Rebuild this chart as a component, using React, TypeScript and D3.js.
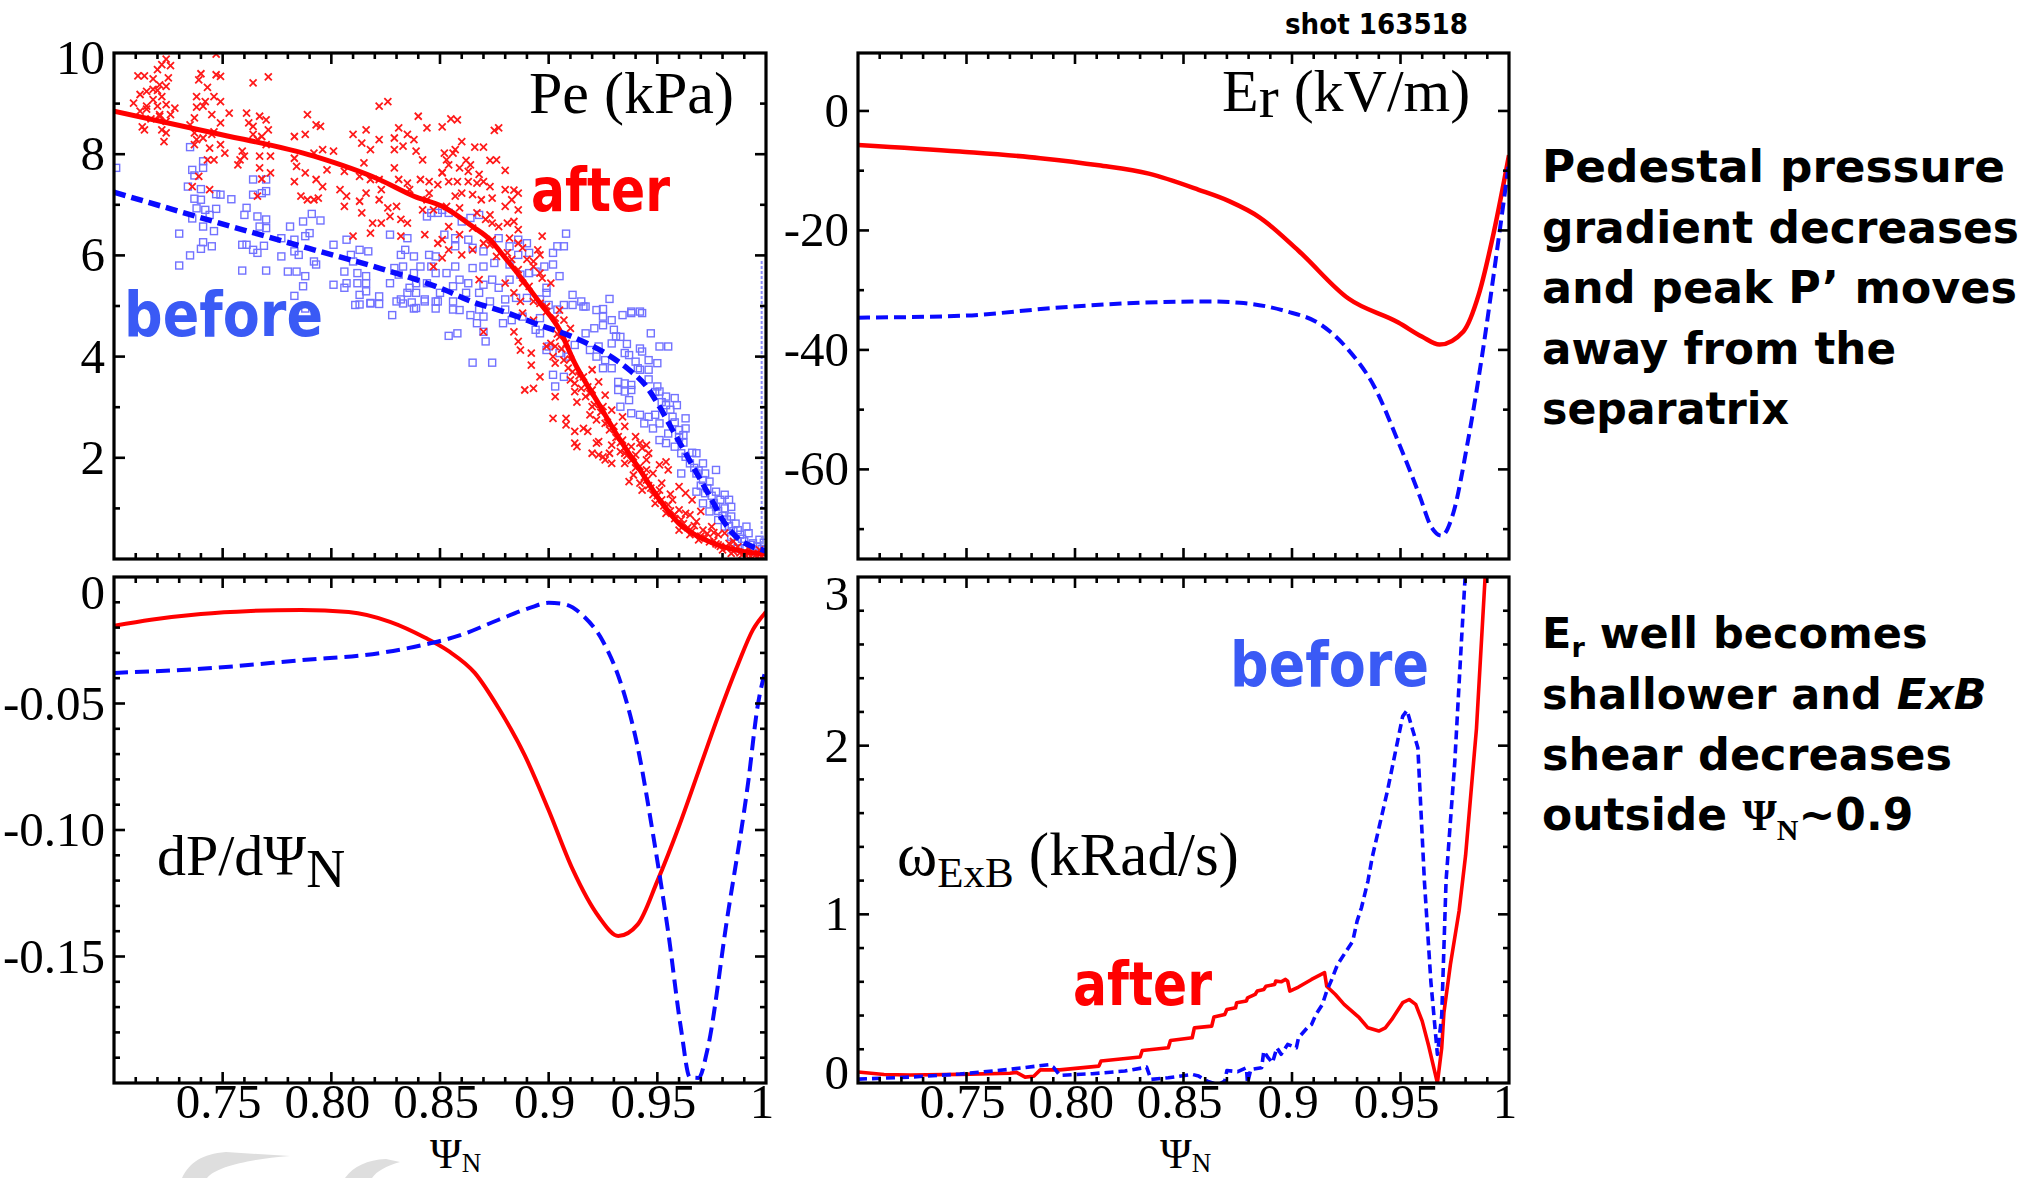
import React from 'react';
import * as d3 from 'd3';

type P = [number, number];

// ---------------- data ----------------
const xTickVals = [0.75, 0.8, 0.85, 0.9, 0.95, 1.0];
const xTickText = ['0.75', '0.80', '0.85', '0.9', '0.95', '1'];

const peTickVals = [10, 8, 6, 4, 2];
const peTickText = ['10', '8', '6', '4', '2'];
const erTickVals = [0, -20, -40, -60];
const erTickText = ['0', '-20', '-40', '-60'];
const dpTickVals = [0, -0.05, -0.1, -0.15];
const dpTickText = ['0', '-0.05', '-0.10', '-0.15'];
const wTickVals = [0, 1, 2, 3];
const wTickText = ['0', '1', '2', '3'];

const peAfterFit: P[] = [
  [0.700, 8.85], [0.746, 8.42], [0.792, 7.96], [0.822, 7.50], [0.838, 7.17], [0.851, 6.97],
  [0.865, 6.57], [0.873, 6.31], [0.880, 5.95], [0.888, 5.52], [0.896, 5.06], [0.905, 4.53],
  [0.912, 3.87], [0.922, 3.14], [0.931, 2.48], [0.942, 1.76], [0.951, 1.17], [0.960, 0.70],
  [0.972, 0.38], [0.983, 0.21], [0.997, 0.11], [1.0, 0.10],
];
const peBeforeFit: P[] = [
  [0.700, 7.25], [0.746, 6.67], [0.792, 6.11], [0.822, 5.75], [0.852, 5.32], [0.865, 5.08],
  [0.880, 4.88], [0.896, 4.62], [0.911, 4.39], [0.926, 4.07], [0.937, 3.74], [0.945, 3.41],
  [0.951, 3.01], [0.957, 2.55], [0.963, 2.09], [0.969, 1.63], [0.975, 1.17], [0.981, 0.71],
  [0.987, 0.41], [0.994, 0.24], [1.0, 0.16],
];

const peAfterPts: P[] = [
  [0.724, 9.88], [0.722, 9.77], [0.720, 9.67], [0.726, 9.75], [0.711, 9.55], [0.714, 9.55], [0.718, 9.49], [0.725, 9.51],
  [0.721, 9.37], [0.724, 9.34], [0.715, 9.24], [0.712, 9.18], [0.718, 9.28], [0.720, 9.26], [0.722, 9.14], [0.718, 9.08],
  [0.715, 8.95], [0.709, 9.01], [0.712, 8.85], [0.715, 8.89], [0.720, 8.95], [0.724, 8.98], [0.728, 8.91], [0.726, 8.78],
  [0.721, 8.78], [0.724, 8.65], [0.721, 8.75], [0.717, 8.70], [0.713, 8.54], [0.714, 8.48], [0.722, 8.48], [0.724, 8.42],
  [0.723, 8.25], [0.740, 9.59], [0.739, 9.47], [0.747, 9.57], [0.749, 9.54], [0.743, 9.32], [0.738, 9.14], [0.738, 8.93],
  [0.742, 9.04], [0.746, 9.14], [0.745, 8.78], [0.741, 8.95], [0.749, 9.04], [0.753, 8.81], [0.749, 8.62], [0.746, 8.44],
  [0.745, 8.39], [0.735, 8.58], [0.737, 8.72], [0.737, 8.42], [0.738, 8.29], [0.737, 8.19], [0.741, 8.32], [0.744, 8.12],
  [0.749, 8.19], [0.751, 8.02], [0.746, 7.89], [0.743, 7.89], [0.747, 9.98], [0.759, 8.06], [0.760, 7.96], [0.758, 7.89],
  [0.757, 7.79], [0.761, 8.81], [0.762, 8.62], [0.764, 8.55], [0.767, 8.75], [0.764, 8.39], [0.766, 8.29], [0.768, 8.35],
  [0.770, 8.68], [0.771, 8.48], [0.770, 8.19], [0.764, 9.41], [0.771, 9.53], [0.767, 7.96], [0.772, 7.96], [0.767, 7.73],
  [0.768, 7.51], [0.766, 7.17], [0.772, 7.63], [0.739, 7.56], [0.736, 7.36], [0.744, 7.30], [0.783, 8.35], [0.788, 8.39],
  [0.789, 8.78], [0.793, 8.58], [0.795, 8.55], [0.792, 8.02], [0.796, 8.09], [0.783, 7.92], [0.784, 7.76], [0.783, 7.46],
  [0.786, 7.17], [0.789, 7.10], [0.792, 7.10], [0.794, 7.13], [0.788, 7.63], [0.793, 7.50], [0.796, 7.36], [0.798, 7.69],
  [0.801, 8.06], [0.806, 7.66], [0.804, 7.30], [0.807, 7.17], [0.806, 6.97], [0.810, 8.39], [0.814, 8.22], [0.816, 8.48],
  [0.822, 8.29], [0.818, 8.09], [0.822, 8.95], [0.826, 9.04], [0.829, 8.32], [0.831, 8.52], [0.835, 8.39], [0.833, 8.16],
  [0.829, 8.09], [0.838, 8.29], [0.840, 8.75], [0.844, 8.52], [0.839, 8.06], [0.842, 7.89], [0.815, 7.83], [0.813, 7.56],
  [0.818, 7.50], [0.822, 7.50], [0.823, 7.30], [0.816, 7.23], [0.813, 7.07], [0.822, 7.10], [0.826, 6.94], [0.814, 6.84],
  [0.819, 6.64], [0.823, 6.64], [0.827, 6.77], [0.829, 7.73], [0.831, 7.50], [0.835, 7.43], [0.836, 7.30], [0.841, 7.50],
  [0.845, 7.46], [0.849, 7.40], [0.851, 7.63], [0.845, 7.23], [0.844, 7.10], [0.842, 6.90], [0.847, 6.90], [0.830, 6.97],
  [0.832, 6.71], [0.835, 6.64], [0.810, 6.38], [0.818, 6.44], [0.832, 6.38], [0.843, 6.41], [0.849, 6.24], [0.851, 5.95],
  [0.847, 5.78], [0.855, 8.70], [0.858, 8.68], [0.851, 8.54], [0.860, 8.25], [0.866, 8.14], [0.870, 8.14], [0.875, 8.47],
  [0.877, 8.52], [0.852, 8.02], [0.856, 8.02], [0.857, 8.09], [0.853, 7.89], [0.854, 7.79], [0.862, 7.88], [0.864, 7.79],
  [0.873, 7.88], [0.876, 7.89], [0.880, 7.68], [0.859, 7.73], [0.863, 7.66], [0.868, 7.60], [0.851, 7.64], [0.854, 7.46],
  [0.858, 7.46], [0.863, 7.46], [0.867, 7.43], [0.870, 7.46], [0.873, 7.36], [0.860, 7.23], [0.857, 7.17], [0.865, 7.20],
  [0.869, 7.10], [0.874, 7.13], [0.880, 7.30], [0.884, 7.29], [0.886, 7.23], [0.883, 7.10], [0.880, 6.97], [0.886, 6.90],
  [0.853, 6.97], [0.859, 6.94], [0.867, 6.84], [0.873, 6.80], [0.854, 6.57], [0.859, 6.41], [0.865, 6.54], [0.871, 6.71],
  [0.874, 6.64], [0.877, 6.57], [0.881, 6.64], [0.884, 6.67], [0.886, 6.51], [0.882, 6.34], [0.886, 6.24], [0.874, 6.31],
  [0.870, 6.24], [0.851, 6.31], [0.854, 6.11], [0.860, 6.01], [0.865, 6.11], [0.873, 6.21], [0.876, 5.98], [0.881, 6.05],
  [0.883, 5.92], [0.888, 6.15], [0.890, 5.92], [0.895, 6.11], [0.897, 6.38], [0.896, 6.01], [0.893, 5.88], [0.886, 5.72],
  [0.893, 5.78], [0.896, 5.65], [0.897, 5.55], [0.901, 5.45], [0.888, 5.45], [0.891, 5.39], [0.868, 5.52], [0.880, 5.45],
  [0.884, 5.26], [0.887, 5.09], [0.893, 5.09], [0.899, 4.99], [0.870, 4.49], [0.884, 4.49], [0.886, 4.30], [0.887, 4.13],
  [0.892, 4.07], [0.892, 3.83], [0.896, 3.60], [0.889, 3.34], [0.893, 3.37], [0.903, 3.21], [0.902, 2.78], [0.908, 2.78],
  [0.908, 2.65], [0.912, 2.29], [0.912, 2.52], [0.916, 2.58], [0.918, 2.52], [0.899, 4.20], [0.901, 4.26], [0.903, 4.20],
  [0.905, 4.39], [0.908, 4.26], [0.902, 4.00], [0.903, 3.87], [0.907, 3.93], [0.909, 3.77], [0.911, 3.70], [0.910, 3.54],
  [0.912, 3.47], [0.916, 3.60], [0.915, 3.37], [0.912, 3.31], [0.917, 3.21], [0.920, 3.74], [0.923, 3.50], [0.920, 3.34],
  [0.926, 3.24], [0.920, 3.01], [0.925, 3.01], [0.919, 2.85], [0.922, 2.75], [0.926, 2.68], [0.929, 2.94], [0.930, 2.62],
  [0.932, 2.42], [0.929, 2.25], [0.923, 2.32], [0.920, 2.09], [0.923, 2.06], [0.925, 2.02], [0.929, 1.89], [0.934, 2.81],
  [0.935, 2.62], [0.934, 2.35], [0.938, 2.22], [0.940, 2.42], [0.942, 2.29], [0.935, 2.09], [0.940, 2.06], [0.943, 2.19],
  [0.945, 2.25], [0.946, 2.09], [0.935, 1.89], [0.942, 1.83], [0.945, 1.76], [0.939, 1.66], [0.937, 1.53], [0.942, 1.50],
  [0.945, 1.56], [0.948, 1.69], [0.951, 1.86], [0.955, 1.76], [0.954, 1.92], [0.943, 1.36], [0.948, 1.27], [0.951, 1.36],
  [0.952, 1.17], [0.949, 1.10], [0.955, 1.07], [0.957, 1.17], [0.960, 0.97], [0.954, 0.90], [0.958, 0.80], [0.963, 0.90],
  [0.965, 0.87], [0.970, 0.94], [0.962, 0.70], [0.968, 0.74], [0.960, 0.57], [0.965, 0.48], [0.971, 0.57], [0.975, 0.64],
  [0.978, 0.48], [0.981, 0.51], [0.969, 0.38], [0.974, 0.34], [0.978, 0.28], [0.983, 0.31], [0.987, 0.24], [0.992, 0.21],
  [0.997, 0.18], [0.980, 0.18], [0.984, 0.11], [0.989, 0.08], [0.994, 0.11], [0.997, 0.08], [0.960, 1.43], [0.963, 1.30],
  [0.966, 1.17], [0.945, 1.96], [0.933, 2.12], [0.928, 2.09], [0.926, 1.96], [0.922, 2.29], [0.919, 3.27], [0.913, 2.22],
  [0.896, 5.05], [0.899, 4.89], [0.903, 4.76], [0.905, 4.92], [0.907, 4.72], [0.910, 4.56], [0.893, 4.72], [0.888, 4.86],
  [0.921, 3.05], [0.924, 2.90], [0.927, 2.70], [0.928, 2.55], [0.931, 2.40], [0.933, 2.30], [0.936, 2.05], [0.938, 1.95],
  [0.940, 1.80], [0.944, 1.62], [0.946, 1.45], [0.947, 1.40], [0.950, 1.25], [0.953, 1.05], [0.956, 0.95], [0.958, 0.88],
  [0.961, 0.78], [0.964, 0.62], [0.966, 0.55], [0.967, 0.66], [0.970, 0.45], [0.972, 0.42], [0.973, 0.50], [0.976, 0.36],
  [0.977, 0.30], [0.979, 0.25], [0.982, 0.22], [0.985, 0.15], [0.986, 0.20], [0.988, 0.12], [0.990, 0.14], [0.991, 0.06],
  [0.993, 0.05], [0.995, 0.07], [0.996, 0.04], [0.998, 0.05], [0.999, 0.12], [0.985, 0.35], [0.976, 0.52], [0.956, 1.28],
  [0.952, 1.50], [0.939, 2.02], [0.935, 2.20], [0.918, 3.40], [0.914, 3.62], [0.910, 3.95], [0.906, 4.15], [0.913, 3.10],
  [0.904, 4.45],
];

const peBeforePts: P[] = [
  [0.701, 7.73], [0.735, 8.14], [0.741, 7.86], [0.741, 7.73], [0.736, 7.69], [0.737, 7.58], [0.734, 7.36], [0.740, 7.31],
  [0.737, 7.12], [0.740, 7.10], [0.747, 7.21], [0.749, 7.20], [0.754, 7.11], [0.738, 6.93], [0.742, 6.90], [0.747, 6.92],
  [0.744, 6.80], [0.736, 6.73], [0.741, 6.57], [0.746, 6.48], [0.730, 6.43], [0.741, 6.26], [0.740, 6.13], [0.745, 6.18],
  [0.735, 6.00], [0.730, 5.80], [0.759, 5.70], [0.770, 5.70], [0.764, 7.50], [0.770, 7.50], [0.764, 7.20], [0.768, 7.23],
  [0.770, 7.27], [0.761, 6.94], [0.760, 6.80], [0.766, 6.77], [0.770, 6.71], [0.767, 6.57], [0.770, 6.54], [0.759, 6.21],
  [0.761, 6.21], [0.764, 6.11], [0.766, 6.05], [0.769, 6.19], [0.777, 6.34], [0.777, 5.98], [0.781, 6.57], [0.787, 6.67],
  [0.791, 6.82], [0.795, 6.69], [0.790, 6.44], [0.788, 6.38], [0.783, 6.31], [0.783, 6.08], [0.785, 6.01], [0.780, 5.68],
  [0.784, 5.68], [0.788, 5.59], [0.787, 5.39], [0.783, 5.20], [0.792, 5.88], [0.793, 5.82], [0.801, 6.21], [0.807, 6.31],
  [0.809, 6.01], [0.813, 6.11], [0.817, 6.08], [0.810, 5.88], [0.806, 5.68], [0.812, 5.65], [0.816, 5.59], [0.807, 5.45],
  [0.812, 5.45], [0.801, 5.42], [0.806, 5.36], [0.816, 5.45], [0.813, 5.22], [0.816, 5.29], [0.818, 5.06], [0.813, 5.03],
  [0.822, 5.19], [0.827, 5.45], [0.827, 6.41], [0.835, 6.34], [0.834, 6.11], [0.838, 5.98], [0.832, 6.01], [0.829, 5.75],
  [0.833, 5.78], [0.831, 5.62], [0.838, 5.65], [0.841, 5.78], [0.845, 6.01], [0.848, 5.98], [0.846, 5.78], [0.848, 5.65],
  [0.844, 5.45], [0.839, 5.45], [0.836, 5.36], [0.839, 5.26], [0.832, 5.13], [0.835, 5.26], [0.843, 5.13], [0.848, 5.09],
  [0.850, 5.26], [0.839, 4.96], [0.846, 6.84], [0.844, 6.77], [0.849, 6.84], [0.811, 5.02], [0.818, 5.05], [0.822, 5.04],
  [0.828, 4.82], [0.830, 5.09], [0.833, 5.05], [0.837, 5.07], [0.838, 4.95], [0.843, 5.09], [0.848, 4.95], [0.849, 5.09],
  [0.788, 4.95], [0.851, 6.90], [0.854, 6.84], [0.860, 6.67], [0.864, 6.74], [0.868, 6.80], [0.852, 6.41], [0.857, 6.34],
  [0.857, 6.18], [0.863, 6.31], [0.865, 6.15], [0.870, 6.08], [0.877, 6.34], [0.882, 6.18], [0.886, 6.31], [0.890, 6.24],
  [0.891, 6.05], [0.886, 6.01], [0.882, 5.82], [0.875, 5.85], [0.870, 5.78], [0.865, 5.75], [0.857, 5.78], [0.853, 5.65],
  [0.859, 5.52], [0.863, 5.45], [0.870, 5.42], [0.874, 5.52], [0.877, 5.36], [0.882, 5.52], [0.887, 5.62], [0.891, 5.65],
  [0.894, 5.68], [0.898, 5.78], [0.902, 6.05], [0.904, 6.18], [0.907, 6.18], [0.908, 6.43], [0.902, 5.82], [0.905, 5.59],
  [0.899, 5.36], [0.899, 5.26], [0.896, 5.13], [0.890, 5.16], [0.885, 5.16], [0.880, 5.13], [0.873, 5.09], [0.868, 5.26],
  [0.862, 5.26], [0.856, 5.39], [0.856, 4.93], [0.868, 4.93], [0.880, 4.93], [0.904, 4.93], [0.911, 5.22], [0.915, 5.09],
  [0.917, 4.99], [0.928, 5.14], [0.925, 4.94], [0.938, 4.89], [0.942, 4.89], [0.856, 5.09], [0.859, 4.92], [0.864, 4.82],
  [0.870, 4.79], [0.867, 4.66], [0.858, 4.46], [0.854, 4.41], [0.870, 4.49], [0.871, 4.30], [0.865, 3.88], [0.874, 3.88],
  [0.879, 4.66], [0.883, 4.72], [0.888, 4.79], [0.896, 4.76], [0.894, 4.53], [0.896, 4.46], [0.900, 5.02], [0.907, 5.02],
  [0.911, 5.02], [0.916, 4.99], [0.922, 4.92], [0.925, 4.79], [0.925, 4.62], [0.917, 4.46], [0.921, 4.56], [0.929, 4.72],
  [0.934, 4.82], [0.938, 4.86], [0.943, 4.86], [0.930, 4.53], [0.933, 4.39], [0.929, 4.26], [0.923, 4.20], [0.919, 4.13],
  [0.912, 4.23], [0.900, 4.20], [0.899, 4.13], [0.905, 4.07], [0.909, 4.00], [0.922, 4.00], [0.926, 3.93], [0.925, 3.77],
  [0.929, 3.77], [0.935, 4.07], [0.937, 4.03], [0.942, 4.16], [0.943, 4.10], [0.947, 4.46], [0.951, 4.20], [0.955, 4.20],
  [0.946, 3.93], [0.950, 3.87], [0.941, 3.77], [0.942, 3.74], [0.946, 3.74], [0.902, 3.64], [0.907, 3.60], [0.903, 3.41],
  [0.932, 3.50], [0.935, 3.47], [0.938, 3.44], [0.938, 3.34], [0.935, 3.31], [0.932, 3.34], [0.950, 3.41], [0.951, 3.31],
  [0.954, 3.21], [0.958, 3.18], [0.959, 3.04], [0.954, 3.04], [0.937, 3.14], [0.933, 3.01], [0.938, 2.88], [0.942, 2.85],
  [0.946, 2.81], [0.949, 2.85], [0.951, 2.68], [0.944, 2.68], [0.948, 2.58], [0.957, 2.81], [0.963, 2.78], [0.963, 2.58],
  [0.960, 2.55], [0.955, 2.48], [0.951, 2.35], [0.954, 2.29], [0.958, 2.22], [0.961, 2.09], [0.963, 2.02], [0.968, 2.09],
  [0.971, 1.89], [0.965, 1.89], [0.961, 1.69], [0.968, 1.69], [0.972, 1.69], [0.977, 1.76], [0.971, 1.56], [0.974, 1.53],
  [0.968, 1.33], [0.972, 1.30], [0.977, 1.33], [0.981, 1.27], [0.983, 1.17], [0.979, 1.17], [0.977, 1.03], [0.971, 1.10],
  [0.974, 0.94], [0.981, 1.00], [0.984, 1.03], [0.984, 0.84], [0.978, 0.77], [0.981, 0.64], [0.987, 0.57], [0.991, 0.64],
  [0.992, 0.51], [0.988, 0.48], [0.984, 0.44], [0.987, 0.34], [0.994, 0.31], [0.997, 0.38], [0.991, 0.21], [0.995, 0.15],
  [0.987, 0.21], [0.958, 2.70], [0.960, 2.40], [0.962, 2.30], [0.966, 2.10], [0.967, 1.80], [0.969, 1.75], [0.970, 1.45],
  [0.973, 1.40], [0.975, 1.25], [0.976, 1.10], [0.978, 0.95], [0.980, 0.85], [0.982, 0.78], [0.983, 0.65], [0.985, 0.55],
  [0.986, 0.70], [0.989, 0.40], [0.990, 0.35], [0.993, 0.28], [0.996, 0.25], [0.998, 0.20], [0.999, 0.32], [0.952, 3.10],
  [0.949, 3.30], [0.946, 3.55], [0.940, 3.90], [0.936, 4.25], [0.931, 4.40], [0.956, 2.95], [0.962, 2.45],
];
const peEdgeBand: P[] = [[0.998, 0], [0.998, 5.9]];

const erAfter: P[] = [
  [0.700, -5.7], [0.747, -6.8], [0.784, -7.9], [0.811, -9.1], [0.834, -10.5], [0.857, -13.2], [0.871, -15.1],
  [0.885, -17.8], [0.903, -23.4], [0.926, -31.4], [0.949, -35.4], [0.960, -37.8], [0.968, -39.1], [0.979, -36.9],
  [0.986, -30.8], [0.993, -20.3], [1.0, -7.4],
];
const erBefore: P[] = [
  [0.700, -34.6], [0.747, -34.3], [0.793, -32.9], [0.839, -32.0], [0.862, -31.9], [0.876, -32.1], [0.897, -33.5],
  [0.913, -35.7], [0.926, -40.0], [0.938, -46.2], [0.949, -55.4], [0.959, -64.6], [0.964, -69.5], [0.969, -71.1],
  [0.974, -67.7], [0.981, -55.4], [0.988, -40.0], [0.994, -24.6], [1.0, -8.6],
];

const dpAfter: P[] = [
  [0.700, -0.0193], [0.717, -0.0169], [0.740, -0.0146], [0.763, -0.0134], [0.786, -0.0130], [0.808, -0.0138],
  [0.827, -0.0177], [0.843, -0.0239], [0.854, -0.0293], [0.866, -0.0379], [0.877, -0.0519], [0.889, -0.0705],
  [0.900, -0.0922], [0.911, -0.1155], [0.923, -0.1342], [0.932, -0.1419], [0.941, -0.1373], [0.950, -0.1202],
  [0.960, -0.0984], [0.969, -0.0767], [0.978, -0.0550], [0.987, -0.0348], [0.994, -0.0208], [1.0, -0.0138],
];
const dpBefore: P[] = [
  [0.700, -0.0379], [0.740, -0.0363], [0.786, -0.0329], [0.822, -0.0301], [0.843, -0.0267], [0.859, -0.0231],
  [0.877, -0.0169], [0.891, -0.0123], [0.900, -0.0102], [0.907, -0.0107], [0.916, -0.0154], [0.925, -0.0255],
  [0.934, -0.0441], [0.941, -0.0674], [0.948, -0.1016], [0.955, -0.1404], [0.961, -0.1792], [0.965, -0.1978],
  [0.969, -0.1980], [0.973, -0.1870], [0.982, -0.1357], [0.992, -0.0798], [0.996, -0.0519], [1.0, -0.0363],
];

const wAfter: P[] = [
  [0.700, 0.065], [0.712, 0.050], [0.724, 0.047], [0.747, 0.051], [0.770, 0.058], [0.773, 0.063], [0.777, 0.035],
  [0.781, 0.040], [0.784, 0.078], [0.793, 0.078], [0.811, 0.100], [0.812, 0.130], [0.830, 0.154], [0.831, 0.193],
  [0.843, 0.209], [0.844, 0.252], [0.854, 0.268], [0.855, 0.327], [0.863, 0.337], [0.864, 0.391], [0.869, 0.406],
  [0.870, 0.436], [0.874, 0.446], [0.8745, 0.476], [0.879, 0.486], [0.8795, 0.505], [0.883, 0.525], [0.884, 0.545],
  [0.887, 0.555], [0.888, 0.574], [0.892, 0.584], [0.8925, 0.604], [0.895, 0.600], [0.897, 0.614], [0.898, 0.604],
  [0.899, 0.545], [0.903, 0.569], [0.909, 0.614], [0.915, 0.654], [0.916, 0.574], [0.920, 0.525], [0.924, 0.466],
  [0.931, 0.387], [0.935, 0.327], [0.940, 0.308], [0.943, 0.327], [0.946, 0.377], [0.951, 0.476], [0.954, 0.495],
  [0.957, 0.466], [0.960, 0.367], [0.963, 0.219], [0.967, 0.0], [0.969, 0.209], [0.970, 0.416], [0.973, 0.703],
  [0.977, 1.02], [0.980, 1.35], [0.985, 2.10], [0.989, 3.0], [0.991, 3.4],
];
const wBefore: P[] = [
  [0.700, 0.023], [0.724, 0.035], [0.747, 0.053], [0.770, 0.081], [0.788, 0.109], [0.790, 0.095], [0.793, 0.045],
  [0.808, 0.055], [0.823, 0.071], [0.833, 0.094], [0.835, 0.021], [0.843, 0.031], [0.854, 0.051], [0.857, 0.041],
  [0.861, 0.011], [0.866, -0.01], [0.869, 0.011], [0.870, 0.074], [0.875, 0.067], [0.879, 0.090], [0.8795, 0.0],
  [0.881, 0.080], [0.886, 0.090], [0.887, 0.189], [0.889, 0.150], [0.891, 0.120], [0.893, 0.209], [0.895, 0.170],
  [0.898, 0.229], [0.902, 0.209], [0.903, 0.268], [0.907, 0.327], [0.909, 0.347], [0.911, 0.406], [0.914, 0.466],
  [0.916, 0.545], [0.918, 0.604], [0.921, 0.703], [0.925, 0.782], [0.928, 0.841], [0.930, 0.960], [0.932, 1.039],
  [0.935, 1.197], [0.937, 1.34], [0.944, 1.733], [0.951, 2.174], [0.953, 2.209], [0.958, 1.988], [0.961, 1.20],
  [0.964, 0.60], [0.967, 0.17], [0.969, 0.40], [0.971, 1.20], [0.975, 1.90], [0.978, 2.60], [0.980, 3.05], [0.981, 3.3],
];

// ---------------- style ----------------
const RED = '#ff0000';
const BLUE = '#0a0aff';
const BLUE_PTS = '#5a5aff';
const LBL_BLUE = '#3a5af5';
const SERIF = "'Liberation Serif', 'Times New Roman', Times, serif";
const SANS = "'DejaVu Sans', 'Noto Sans', sans-serif";
const TICK_FS = 49;

type Tick = { v: number; major: boolean };

interface PanelCfg {
  id: string;
  x0: number; x1: number; y0: number; y1: number;
  yDomain: [number, number];
  yTicks: Tick[];
  yLabelVals: number[];
  yLabelText: string[];
  topPad: number; botPad: number;
  xLabels: boolean;
}

const xTicks: Tick[] = d3.range(1, 30).map((i) => ({ v: 0.7 + i * 0.01, major: i % 5 === 0 }));

function Panel({ cfg, draw }: { cfg: PanelCfg; draw: (sx: any, sy: any) => React.ReactNode }) {
  const sx = d3.scaleLinear().domain([0.7, 1.0]).range([cfg.x0, cfg.x1]);
  const sy = d3.scaleLinear().domain(cfg.yDomain).range([cfg.y1, cfg.y0]);
  const MAJ = 11, MIN = 6;
  const tickLines: React.ReactNode[] = [];
  xTicks.forEach((t, i) => {
    const x = sx(t.v);
    const l = t.major ? MAJ : MIN;
    tickLines.push(<line key={'xb' + i} x1={x} x2={x} y1={cfg.y1} y2={cfg.y1 - l} />);
    tickLines.push(<line key={'xt' + i} x1={x} x2={x} y1={cfg.y0} y2={cfg.y0 + l} />);
  });
  cfg.yTicks.forEach((t, i) => {
    const y = sy(t.v);
    const l = t.major ? MAJ : MIN;
    tickLines.push(<line key={'yl' + i} x1={cfg.x0} x2={cfg.x0 + l} y1={y} y2={y} />);
    tickLines.push(<line key={'yr' + i} x1={cfg.x1} x2={cfg.x1 - l} y1={y} y2={y} />);
  });
  return (
    <g>
      <defs>
        <clipPath id={cfg.id + '-clip'}>
          <rect x={cfg.x0} y={cfg.y0} width={cfg.x1 - cfg.x0} height={cfg.y1 - cfg.y0} />
        </clipPath>
      </defs>
      <g clipPath={`url(#${cfg.id}-clip)`}>{draw(sx, sy)}</g>
      <g stroke="#000" strokeWidth={2.6}>{tickLines}</g>
      <rect x={cfg.x0} y={cfg.y0} width={cfg.x1 - cfg.x0} height={cfg.y1 - cfg.y0} fill="none" stroke="#000" strokeWidth={3.2} />
      {cfg.yLabelVals.map((v, i) => {
        const yc = Math.min(Math.max(sy(v), cfg.y0 + cfg.topPad), cfg.y1 - cfg.botPad);
        return (
          <text key={'yl' + i} x={cfg.x0 - 9} y={yc + 16} fontFamily={SERIF} fontSize={TICK_FS}
            fill="#000" textAnchor="end">{cfg.yLabelText[i]}</text>
        );
      })}
      {cfg.xLabels && xTickVals.map((v, i) => (
        <text key={'xl' + i} x={sx(v) - 4} y={1118} fontFamily={SERIF} fontSize={TICK_FS}
          fill="#000" textAnchor="middle">{xTickText[i]}</text>
      ))}
    </g>
  );
}

const LX = { x0: 114, x1: 766 };
const RX = { x0: 858, x1: 1509 };
const TY = { y0: 53, y1: 559 };
const BY = { y0: 577, y1: 1083 };

const cfgPe: PanelCfg = {
  id: 'pe', ...LX, ...TY, yDomain: [0, 10],
  yTicks: d3.range(1, 10).map((v) => ({ v, major: v % 2 === 0 })),
  yLabelVals: peTickVals, yLabelText: peTickText, topPad: 5, botPad: 5, xLabels: false,
};
const cfgEr: PanelCfg = {
  id: 'er', ...RX, ...TY, yDomain: [-75, 9.7],
  yTicks: d3.range(-70, 10, 10).map((v) => ({ v, major: v % 20 === 0 })),
  yLabelVals: erTickVals, yLabelText: erTickText, topPad: 5, botPad: 5, xLabels: false,
};
const cfgDp: PanelCfg = {
  id: 'dp', ...LX, ...BY, yDomain: [-0.2, 0],
  yTicks: d3.range(1, 20).map((i) => ({ v: -i * 0.01, major: i % 5 === 0 })),
  yLabelVals: dpTickVals, yLabelText: dpTickText, topPad: 16, botPad: 10, xLabels: true,
};
const cfgW: PanelCfg = {
  id: 'w', ...RX, ...BY, yDomain: [0, 3],
  yTicks: d3.range(1, 15).map((i) => ({ v: i * 0.2, major: i % 5 === 0 })),
  yLabelVals: wTickVals, yLabelText: wTickText, topPad: 17, botPad: 10, xLabels: true,
};

function lineGen(sx: any, sy: any, curve: any) {
  return d3.line<P>().x((d) => sx(d[0])).y((d) => sy(d[1])).curve(curve);
}

export default function App() {
  return (
    <svg width={2040} height={1178} viewBox="0 0 2040 1178"
      style={{ position: 'absolute', left: 0, top: 0, display: 'block', background: '#fff' }}>
      <rect x={0} y={0} width={2040} height={1178} fill="#fff" />

      {/* watermark fragment */}
      <path d="M182,1178 C190,1162 202,1154 226,1152 L290,1156 C252,1159 217,1166 207,1178 Z" fill="#dedede" />
      <path d="M345,1178 C354,1166 367,1160 386,1159 L400,1162 C386,1166 377,1171 372,1178 Z" fill="#dedede" />

      {/* Pe panel */}
      <Panel cfg={cfgPe} draw={(sx, sy) => (
        <g>
          <g stroke={BLUE_PTS} strokeWidth={1.4} fill="none" opacity={0.85}>
            {peBeforePts.map((d, i) => (
              <rect key={i} x={sx(d[0]) - 3.5} y={sy(d[1]) - 3.5} width={7} height={7} />
            ))}
          </g>
          <path d={lineGen(sx, sy, d3.curveLinear)(peEdgeBand) || ''} stroke="#8c8cff" strokeWidth={2} strokeDasharray="3,2" fill="none" />
          <g stroke="#ff1a1a" strokeWidth={1.8} fill="none">
            {peAfterPts.map((d, i) => (
              <path key={i} transform={`translate(${sx(d[0])},${sy(d[1])})`} d="M-3.5,-3.5L3.5,3.5M-3.5,3.5L3.5,-3.5" />
            ))}
          </g>
          <path d={lineGen(sx, sy, d3.curveMonotoneX)(peAfterFit) || ''} stroke={RED} strokeWidth={5} fill="none" />
          <path d={lineGen(sx, sy, d3.curveMonotoneX)(peBeforeFit) || ''} stroke={BLUE} strokeWidth={5.5} strokeDasharray="12,6" fill="none" />
        </g>
      )} />

      {/* Er panel */}
      <Panel cfg={cfgEr} draw={(sx, sy) => (
        <g>
          <path d={lineGen(sx, sy, d3.curveMonotoneX)(erAfter) || ''} stroke={RED} strokeWidth={4.5} fill="none" />
          <path d={lineGen(sx, sy, d3.curveMonotoneX)(erBefore) || ''} stroke={BLUE} strokeWidth={4} strokeDasharray="12,6" fill="none" />
        </g>
      )} />

      {/* dP panel */}
      <Panel cfg={cfgDp} draw={(sx, sy) => (
        <g>
          <path d={lineGen(sx, sy, d3.curveMonotoneX)(dpAfter) || ''} stroke={RED} strokeWidth={4} fill="none" />
          <path d={lineGen(sx, sy, d3.curveMonotoneX)(dpBefore) || ''} stroke={BLUE} strokeWidth={4} strokeDasharray="14,7" fill="none" />
        </g>
      )} />

      {/* omega panel */}
      <Panel cfg={cfgW} draw={(sx, sy) => (
        <g>
          <path d={lineGen(sx, sy, d3.curveLinear)(wAfter) || ''} stroke={RED} strokeWidth={3.6} fill="none" strokeLinejoin="round" />
          <path d={lineGen(sx, sy, d3.curveLinear)(wBefore) || ''} stroke={BLUE} strokeWidth={3.6} strokeDasharray="9,5" fill="none" strokeLinejoin="round" />
        </g>
      )} />

      {/* panel titles */}
      <text x={529} y={113} fontFamily={SERIF} fontSize={60} fill="#000">Pe (kPa)</text>
      <text x={1222} y={111} fontFamily={SERIF} fontSize={60} fill="#000">
        E<tspan dy={6}>r</tspan><tspan dy={-6}> (kV/m)</tspan>
      </text>
      <text x={157} y={875} fontFamily={SERIF} fontSize={58} fill="#000">
        dP/dΨ<tspan dy={12} fontSize={54}>N</tspan>
      </text>
      <text x={897} y={875} fontFamily={SERIF} fontSize={61} fill="#000">
        ω<tspan dy={12} fontSize={43}>ExB</tspan><tspan dy={-12}> (kRad/s)</tspan>
      </text>

      {/* axis titles */}
      <text x={430} y={1168} fontFamily={SERIF} fontSize={43} fill="#000">
        Ψ<tspan dy={4} fontSize={27}>N</tspan>
      </text>
      <text x={1160} y={1168} fontFamily={SERIF} fontSize={43} fill="#000">
        Ψ<tspan dy={4} fontSize={27}>N</tspan>
      </text>

      {/* series labels */}
      <text x={531} y={211} fontFamily={SANS} fontWeight="bold" fontSize={60} fill={RED} textLength={139} lengthAdjust="spacingAndGlyphs">after</text>
      <text x={124} y={336} fontFamily={SANS} fontWeight="bold" fontSize={62} fill={LBL_BLUE} textLength={199} lengthAdjust="spacingAndGlyphs">before</text>
      <text x={1230} y={686} fontFamily={SANS} fontWeight="bold" fontSize={62} fill={LBL_BLUE} textLength={199} lengthAdjust="spacingAndGlyphs">before</text>
      <text x={1073} y={1005} fontFamily={SANS} fontWeight="bold" fontSize={60} fill={RED} textLength={139} lengthAdjust="spacingAndGlyphs">after</text>

      {/* shot number */}
      <text x={1285} y={34} fontFamily={SANS} fontWeight="bold" fontSize={29} fill="#000" textLength={183} lengthAdjust="spacingAndGlyphs">shot 163518</text>

      {/* annotation text */}
      <g fontFamily={SANS} fontWeight="bold" fontSize={45} fill="#000">
        <text x={1542} y={182} textLength={463} lengthAdjust="spacingAndGlyphs">Pedestal pressure</text>
        <text x={1542} y={243} textLength={477} lengthAdjust="spacingAndGlyphs">gradient decreases</text>
        <text x={1542} y={303} textLength={475} lengthAdjust="spacingAndGlyphs">and peak P’ moves</text>
        <text x={1542} y={364} textLength={354} lengthAdjust="spacingAndGlyphs">away from the</text>
        <text x={1542} y={424} textLength={247} lengthAdjust="spacingAndGlyphs">separatrix</text>
        <text x={1542} y={648} fontSize={43}>E<tspan dy={9} fontSize={27}>r</tspan><tspan dy={-9}> well becomes</tspan></text>
        <text x={1542} y={709} fontSize={43}>shallower and <tspan fontStyle="italic">ExB</tspan></text>
        <text x={1542} y={770} textLength={410} lengthAdjust="spacingAndGlyphs">shear decreases</text>
        <text x={1542} y={830} fontSize={44}>outside <tspan fontFamily={SERIF}>Ψ</tspan><tspan fontFamily={SERIF} fontSize={30} dy={10}>N</tspan><tspan dy={-10}>~0.9</tspan></text>
      </g>
    </svg>
  );
}
